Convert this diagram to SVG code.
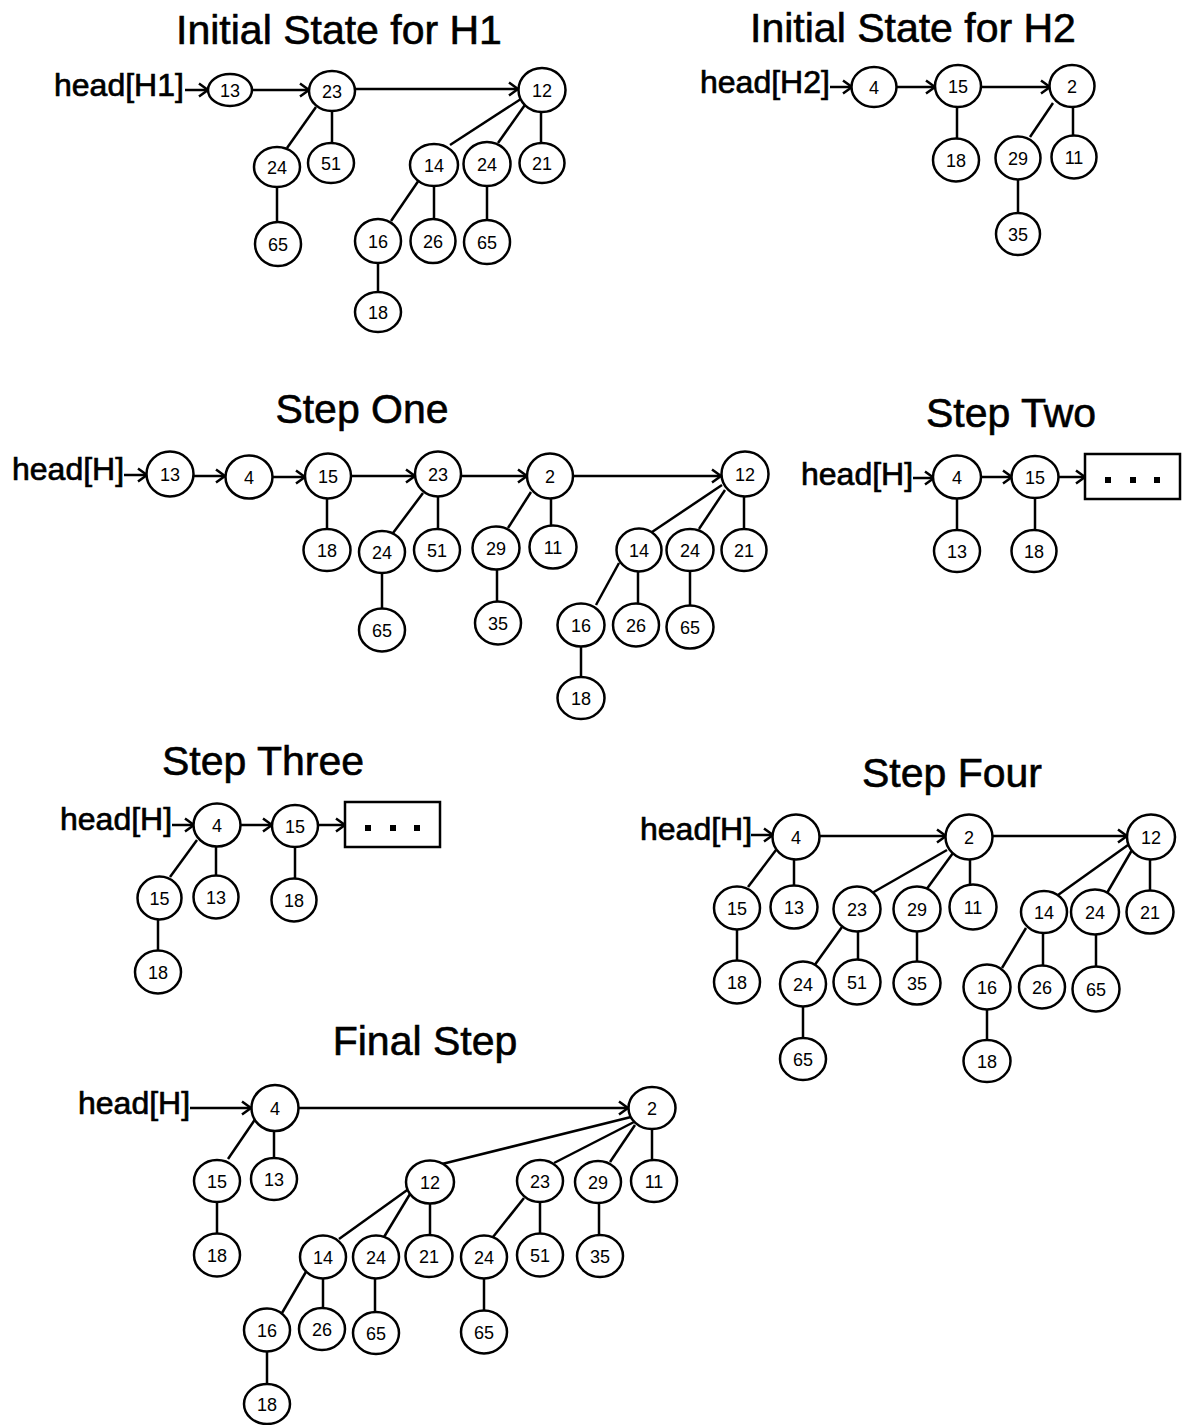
<svg xmlns="http://www.w3.org/2000/svg" width="1187" height="1425" viewBox="0 0 1187 1425">
<style>
  .n ellipse { fill: #fff; stroke: #000; stroke-width: 2.5; }
  .n text { font-family: "Liberation Sans", Arial, sans-serif; font-size: 18px; text-anchor: middle; fill: #000; }
  .title { font-family: "Liberation Sans", Arial, sans-serif; font-size: 41px; text-anchor: middle; fill: #000; stroke: #000; stroke-width: 0.6; }
  .head { font-family: "Liberation Sans", Arial, sans-serif; font-size: 32px; fill: #000; stroke: #000; stroke-width: 0.7; }
  .e line { stroke: #000; stroke-width: 2.5; fill: none; }
  .e line.a { marker-end: url(#arrow); }
  .box rect.frame { fill: #fff; stroke: #000; stroke-width: 2.5; }
  .box rect.dot { fill: #000; }
</style>
<defs>
  <marker id="arrow" markerUnits="userSpaceOnUse" markerWidth="14" markerHeight="16" refX="11" refY="8" orient="auto">
    <path d="M2,1.5 L11,8 L2,14.5" fill="none" stroke="#000" stroke-width="2.5"/>
  </marker>
</defs>
<rect width="1187" height="1425" fill="#fff"/>

<!-- ===== Initial State for H1 ===== -->
<text class="title" x="339" y="44">Initial State for H1</text>
<text class="head" x="54" y="96">head[H1]</text>
<g class="e" id="edges-h1">
  <line class="a" x1="185" y1="90" x2="208" y2="90"/>
  <line class="a" x1="252" y1="90" x2="309" y2="90"/>
  <line class="a" x1="355" y1="89" x2="518" y2="89"/>
  <line x1="316" y1="107" x2="287" y2="148"/>
  <line x1="332" y1="111" x2="332" y2="143"/>
  <line x1="277" y1="187" x2="277" y2="222"/>
  <line x1="524" y1="97" x2="450" y2="145"/>
  <line x1="527" y1="102" x2="498" y2="143"/>
  <line x1="541" y1="112" x2="541" y2="143"/>
  <line x1="419" y1="180" x2="391" y2="221"/>
  <line x1="434" y1="186" x2="434" y2="219"/>
  <line x1="487" y1="186" x2="487" y2="220"/>
  <line x1="378" y1="263" x2="378" y2="292"/>
</g>
<g class="n" id="h1-13"><ellipse cx="230" cy="90" rx="22" ry="16"/><text x="230" y="96.5">13</text></g>
<g class="n" id="h1-23"><ellipse cx="332" cy="91" rx="23" ry="20"/><text x="332" y="97.5">23</text></g>
<g class="n" id="h1-12"><ellipse cx="542" cy="90" rx="23.5" ry="22"/><text x="542" y="96.5">12</text></g>
<g class="n" id="h1-24a"><ellipse cx="277" cy="167" rx="23" ry="20"/><text x="277" y="173.5">24</text></g>
<g class="n" id="h1-51"><ellipse cx="331" cy="163" rx="23" ry="20"/><text x="331" y="169.5">51</text></g>
<g class="n" id="h1-65a"><ellipse cx="278" cy="244" rx="23" ry="22"/><text x="278" y="250.5">65</text></g>
<g class="n" id="h1-14"><ellipse cx="434" cy="165" rx="24" ry="21"/><text x="434" y="171.5">14</text></g>
<g class="n" id="h1-24b"><ellipse cx="487" cy="164" rx="23.5" ry="22"/><text x="487" y="170.5">24</text></g>
<g class="n" id="h1-21"><ellipse cx="542" cy="163" rx="22.5" ry="20"/><text x="542" y="169.5">21</text></g>
<g class="n" id="h1-16"><ellipse cx="378" cy="241" rx="23" ry="22"/><text x="378" y="247.5">16</text></g>
<g class="n" id="h1-26"><ellipse cx="433" cy="241" rx="22.5" ry="22"/><text x="433" y="247.5">26</text></g>
<g class="n" id="h1-65b"><ellipse cx="487" cy="242" rx="23" ry="22"/><text x="487" y="248.5">65</text></g>
<g class="n" id="h1-18"><ellipse cx="378" cy="312" rx="23" ry="20"/><text x="378" y="318.5">18</text></g>

<!-- ===== Initial State for H2 ===== -->
<text class="title" x="913" y="42">Initial State for H2</text>
<text class="head" x="700" y="93">head[H2]</text>
<g class="e" id="edges-h2">
  <line class="a" x1="830" y1="87" x2="852" y2="87"/>
  <line class="a" x1="897" y1="87" x2="935" y2="87"/>
  <line class="a" x1="981" y1="87" x2="1050" y2="87"/>
  <line x1="957" y1="107" x2="957" y2="138"/>
  <line x1="1053" y1="103" x2="1030" y2="137"/>
  <line x1="1073" y1="107" x2="1073" y2="135"/>
  <line x1="1018" y1="180" x2="1018" y2="213"/>
</g>
<g class="n" id="h2-4"><ellipse cx="874" cy="87" rx="22.5" ry="20"/><text x="874" y="93.5">4</text></g>
<g class="n" id="h2-15"><ellipse cx="958" cy="86" rx="23" ry="21"/><text x="958" y="92.5">15</text></g>
<g class="n" id="h2-2"><ellipse cx="1072" cy="86" rx="22.5" ry="21"/><text x="1072" y="92.5">2</text></g>
<g class="n" id="h2-18"><ellipse cx="956" cy="160" rx="23" ry="21.5"/><text x="956" y="166.5">18</text></g>
<g class="n" id="h2-29"><ellipse cx="1018" cy="158" rx="22.5" ry="21.5"/><text x="1018" y="164.5">29</text></g>
<g class="n" id="h2-11"><ellipse cx="1074" cy="157" rx="22.5" ry="21.5"/><text x="1074" y="163.5">11</text></g>
<g class="n" id="h2-35"><ellipse cx="1018" cy="234" rx="22" ry="21"/><text x="1018" y="240.5">35</text></g>

<!-- ===== Step One ===== -->
<text class="title" x="362" y="423">Step One</text>
<text class="head" x="12" y="480">head[H]</text>
<g class="e" id="edges-s1">
  <line class="a" x1="124" y1="475" x2="147" y2="475"/>
  <line class="a" x1="194" y1="476" x2="225" y2="476"/>
  <line class="a" x1="273" y1="477" x2="305" y2="477"/>
  <line class="a" x1="351" y1="476" x2="415" y2="476"/>
  <line class="a" x1="461" y1="476" x2="527" y2="476"/>
  <line class="a" x1="573" y1="476" x2="721" y2="476"/>
  <line x1="327" y1="498" x2="327" y2="529"/>
  <line x1="423" y1="493" x2="393" y2="533"/>
  <line x1="438" y1="497" x2="438" y2="529"/>
  <line x1="531" y1="492" x2="508" y2="528"/>
  <line x1="551" y1="498" x2="551" y2="525"/>
  <line x1="722" y1="485" x2="652" y2="532"/>
  <line x1="725" y1="490" x2="699" y2="529"/>
  <line x1="744" y1="497" x2="744" y2="529"/>
  <line x1="382" y1="573" x2="382" y2="608"/>
  <line x1="497" y1="570" x2="497" y2="602"/>
  <line x1="619" y1="563" x2="596" y2="605"/>
  <line x1="638" y1="572" x2="638" y2="603"/>
  <line x1="690" y1="571" x2="690" y2="605"/>
  <line x1="581" y1="647" x2="581" y2="677"/>
</g>
<g class="n" id="s1-13"><ellipse cx="170" cy="474" rx="23.5" ry="22.5"/><text x="170" y="480.5">13</text></g>
<g class="n" id="s1-4"><ellipse cx="249" cy="477" rx="23.5" ry="21.5"/><text x="249" y="483.5">4</text></g>
<g class="n" id="s1-15"><ellipse cx="328" cy="476" rx="23" ry="22.5"/><text x="328" y="482.5">15</text></g>
<g class="n" id="s1-23"><ellipse cx="438" cy="474" rx="23" ry="22.5"/><text x="438" y="480.5">23</text></g>
<g class="n" id="s1-2"><ellipse cx="550" cy="476" rx="23" ry="22.5"/><text x="550" y="482.5">2</text></g>
<g class="n" id="s1-12"><ellipse cx="745" cy="474" rx="23.5" ry="22.5"/><text x="745" y="480.5">12</text></g>
<g class="n" id="s1-18a"><ellipse cx="327" cy="550" rx="23.5" ry="21"/><text x="327" y="556.5">18</text></g>
<g class="n" id="s1-24a"><ellipse cx="382" cy="552" rx="23" ry="21"/><text x="382" y="558.5">24</text></g>
<g class="n" id="s1-51"><ellipse cx="437" cy="550" rx="23" ry="21"/><text x="437" y="556.5">51</text></g>
<g class="n" id="s1-29"><ellipse cx="496" cy="548" rx="23.5" ry="21.5"/><text x="496" y="554.5">29</text></g>
<g class="n" id="s1-11"><ellipse cx="553" cy="547" rx="23.5" ry="21.5"/><text x="553" y="553.5">11</text></g>
<g class="n" id="s1-14"><ellipse cx="639" cy="550" rx="22.5" ry="21.5"/><text x="639" y="556.5">14</text></g>
<g class="n" id="s1-24b"><ellipse cx="690" cy="550" rx="23.5" ry="21"/><text x="690" y="556.5">24</text></g>
<g class="n" id="s1-21"><ellipse cx="744" cy="550" rx="22.5" ry="21"/><text x="744" y="556.5">21</text></g>
<g class="n" id="s1-65a"><ellipse cx="382" cy="630" rx="23" ry="21.5"/><text x="382" y="636.5">65</text></g>
<g class="n" id="s1-35"><ellipse cx="498" cy="623" rx="23" ry="21.5"/><text x="498" y="629.5">35</text></g>
<g class="n" id="s1-16"><ellipse cx="581" cy="625" rx="23.5" ry="21.5"/><text x="581" y="631.5">16</text></g>
<g class="n" id="s1-26"><ellipse cx="636" cy="625" rx="23" ry="21.5"/><text x="636" y="631.5">26</text></g>
<g class="n" id="s1-65b"><ellipse cx="690" cy="627" rx="23.5" ry="21.5"/><text x="690" y="633.5">65</text></g>
<g class="n" id="s1-18b"><ellipse cx="581" cy="698" rx="23.5" ry="21"/><text x="581" y="704.5">18</text></g>

<!-- ===== Step Two ===== -->
<text class="title" x="1011" y="427">Step Two</text>
<text class="head" x="801" y="485">head[H]</text>
<g class="e" id="edges-s2">
  <line class="a" x1="913" y1="478" x2="934" y2="478"/>
  <line class="a" x1="981" y1="477" x2="1012" y2="477"/>
  <line class="a" x1="1058" y1="477" x2="1085" y2="477"/>
  <line x1="957" y1="498" x2="957" y2="530"/>
  <line x1="1035" y1="498" x2="1035" y2="530"/>
</g>
<g class="n" id="s2-4"><ellipse cx="957" cy="477" rx="24" ry="21.5"/><text x="957" y="483.5">4</text></g>
<g class="n" id="s2-15"><ellipse cx="1035" cy="477" rx="23.5" ry="21"/><text x="1035" y="483.5">15</text></g>
<g class="n" id="s2-13"><ellipse cx="957" cy="551" rx="23" ry="21"/><text x="957" y="557.5">13</text></g>
<g class="n" id="s2-18"><ellipse cx="1034" cy="551" rx="22.5" ry="21"/><text x="1034" y="557.5">18</text></g>
<g class="box" id="s2-rest">
  <rect class="frame" x="1085" y="454" width="95" height="45"/>
  <rect class="dot" x="1105" y="477" width="6" height="6"/>
  <rect class="dot" x="1130" y="477" width="6" height="6"/>
  <rect class="dot" x="1154" y="477" width="6" height="6"/>
</g>

<!-- ===== Step Three ===== -->
<text class="title" x="263" y="775">Step Three</text>
<text class="head" x="60" y="830">head[H]</text>
<g class="e" id="edges-s3">
  <line class="a" x1="172" y1="825" x2="194" y2="825"/>
  <line class="a" x1="240" y1="825" x2="272" y2="825"/>
  <line class="a" x1="318" y1="825" x2="345" y2="825"/>
  <line x1="197" y1="840" x2="170" y2="877"/>
  <line x1="216" y1="847" x2="216" y2="875"/>
  <line x1="295" y1="847" x2="295" y2="878"/>
  <line x1="158" y1="920" x2="158" y2="950"/>
</g>
<g class="n" id="s3-4"><ellipse cx="217" cy="825" rx="23.5" ry="21.5"/><text x="217" y="831.5">4</text></g>
<g class="n" id="s3-15a"><ellipse cx="295" cy="826" rx="23" ry="21"/><text x="295" y="832.5">15</text></g>
<g class="n" id="s3-15b"><ellipse cx="159.5" cy="898" rx="22" ry="21.5"/><text x="159.5" y="904.5">15</text></g>
<g class="n" id="s3-13"><ellipse cx="216" cy="897" rx="22.5" ry="21.5"/><text x="216" y="903.5">13</text></g>
<g class="n" id="s3-18a"><ellipse cx="294" cy="900" rx="22.5" ry="21.5"/><text x="294" y="906.5">18</text></g>
<g class="n" id="s3-18b"><ellipse cx="158" cy="972" rx="23" ry="21.5"/><text x="158" y="978.5">18</text></g>
<g class="box" id="s3-rest">
  <rect class="frame" x="345" y="802" width="95" height="45"/>
  <rect class="dot" x="365" y="825" width="6" height="6"/>
  <rect class="dot" x="390" y="825" width="6" height="6"/>
  <rect class="dot" x="414" y="825" width="6" height="6"/>
</g>

<!-- ===== Step Four ===== -->
<text class="title" x="952" y="787">Step Four</text>
<text class="head" x="640" y="840">head[H]</text>
<g class="e" id="edges-s4">
  <line class="a" x1="751" y1="835" x2="773" y2="835"/>
  <line class="a" x1="819" y1="836" x2="946" y2="836"/>
  <line class="a" x1="993" y1="836" x2="1127" y2="836"/>
  <line x1="776" y1="850" x2="748" y2="887"/>
  <line x1="794" y1="860" x2="794" y2="885"/>
  <line x1="947" y1="850" x2="872" y2="893"/>
  <line x1="953" y1="853" x2="926" y2="890"/>
  <line x1="970" y1="860" x2="970" y2="885"/>
  <line x1="1128" y1="845" x2="1058" y2="895"/>
  <line x1="1132" y1="850" x2="1107" y2="893"/>
  <line x1="1150" y1="860" x2="1150" y2="890"/>
  <line x1="737" y1="930" x2="737" y2="960"/>
  <line x1="842" y1="927" x2="814" y2="966"/>
  <line x1="858" y1="932" x2="858" y2="960"/>
  <line x1="917" y1="932" x2="917" y2="962"/>
  <line x1="1026" y1="928" x2="1002" y2="968"/>
  <line x1="1043" y1="933" x2="1043" y2="965"/>
  <line x1="1096" y1="935" x2="1096" y2="967"/>
  <line x1="803" y1="1007" x2="803" y2="1038"/>
  <line x1="987" y1="1010" x2="987" y2="1040"/>
</g>
<g class="n" id="s4-4"><ellipse cx="796" cy="837" rx="23.5" ry="22.5"/><text x="796" y="843.5">4</text></g>
<g class="n" id="s4-2"><ellipse cx="969" cy="837" rx="23.5" ry="22.5"/><text x="969" y="843.5">2</text></g>
<g class="n" id="s4-12"><ellipse cx="1151" cy="837" rx="24" ry="22.5"/><text x="1151" y="843.5">12</text></g>
<g class="n" id="s4-15"><ellipse cx="737" cy="908" rx="23" ry="21.5"/><text x="737" y="914.5">15</text></g>
<g class="n" id="s4-13"><ellipse cx="794" cy="907" rx="23.5" ry="21.5"/><text x="794" y="913.5">13</text></g>
<g class="n" id="s4-23"><ellipse cx="857" cy="909" rx="23.5" ry="22.5"/><text x="857" y="915.5">23</text></g>
<g class="n" id="s4-29"><ellipse cx="917" cy="909" rx="23.5" ry="22.5"/><text x="917" y="915.5">29</text></g>
<g class="n" id="s4-11"><ellipse cx="973" cy="907" rx="23.5" ry="22.5"/><text x="973" y="913.5">11</text></g>
<g class="n" id="s4-14"><ellipse cx="1044" cy="912" rx="23" ry="21"/><text x="1044" y="918.5">14</text></g>
<g class="n" id="s4-24a"><ellipse cx="1095" cy="912" rx="24" ry="22.5"/><text x="1095" y="918.5">24</text></g>
<g class="n" id="s4-21"><ellipse cx="1150" cy="912" rx="23.5" ry="21.5"/><text x="1150" y="918.5">21</text></g>
<g class="n" id="s4-18a"><ellipse cx="737" cy="982" rx="23" ry="21.5"/><text x="737" y="988.5">18</text></g>
<g class="n" id="s4-24b"><ellipse cx="803" cy="984" rx="23" ry="22.5"/><text x="803" y="990.5">24</text></g>
<g class="n" id="s4-51"><ellipse cx="857" cy="982" rx="23.5" ry="22.5"/><text x="857" y="988.5">51</text></g>
<g class="n" id="s4-35"><ellipse cx="917" cy="983" rx="23.5" ry="21.5"/><text x="917" y="989.5">35</text></g>
<g class="n" id="s4-16"><ellipse cx="987" cy="987" rx="23.5" ry="22.5"/><text x="987" y="993.5">16</text></g>
<g class="n" id="s4-26"><ellipse cx="1042" cy="987" rx="23" ry="21.5"/><text x="1042" y="993.5">26</text></g>
<g class="n" id="s4-65a"><ellipse cx="1096" cy="989" rx="23.5" ry="22.5"/><text x="1096" y="995.5">65</text></g>
<g class="n" id="s4-65b"><ellipse cx="803" cy="1059" rx="23" ry="21"/><text x="803" y="1065.5">65</text></g>
<g class="n" id="s4-18b"><ellipse cx="987" cy="1061" rx="23.5" ry="21"/><text x="987" y="1067.5">18</text></g>

<!-- ===== Final Step ===== -->
<text class="title" x="425" y="1055">Final Step</text>
<text class="head" x="78" y="1114">head[H]</text>
<g class="e" id="edges-final">
  <line class="a" x1="190" y1="1108" x2="251" y2="1108"/>
  <line class="a" x1="299" y1="1108" x2="628" y2="1108"/>
  <line x1="256" y1="1118" x2="228" y2="1159"/>
  <line x1="274" y1="1131" x2="274" y2="1158"/>
  <line x1="631" y1="1117" x2="442" y2="1164"/>
  <line x1="634" y1="1122" x2="554" y2="1163"/>
  <line x1="635" y1="1125" x2="610" y2="1162"/>
  <line x1="652" y1="1129" x2="652" y2="1160"/>
  <line x1="217" y1="1202" x2="217" y2="1234"/>
  <line x1="410" y1="1188" x2="339" y2="1239"/>
  <line x1="410" y1="1194" x2="384" y2="1237"/>
  <line x1="430" y1="1203" x2="430" y2="1235"/>
  <line x1="524" y1="1198" x2="493" y2="1237"/>
  <line x1="540" y1="1202" x2="540" y2="1234"/>
  <line x1="599" y1="1203" x2="599" y2="1235"/>
  <line x1="307" y1="1270" x2="282" y2="1313"/>
  <line x1="323" y1="1278" x2="323" y2="1308"/>
  <line x1="375" y1="1278" x2="375" y2="1312"/>
  <line x1="484" y1="1278" x2="484" y2="1310"/>
  <line x1="267" y1="1352" x2="267" y2="1384"/>
</g>
<g class="n" id="f-4"><ellipse cx="275" cy="1108" rx="23.5" ry="23"/><text x="275" y="1114.5">4</text></g>
<g class="n" id="f-2"><ellipse cx="652" cy="1108" rx="23.5" ry="21"/><text x="652" y="1114.5">2</text></g>
<g class="n" id="f-15"><ellipse cx="217" cy="1181" rx="23" ry="21"/><text x="217" y="1187.5">15</text></g>
<g class="n" id="f-13"><ellipse cx="274" cy="1179" rx="23" ry="21"/><text x="274" y="1185.5">13</text></g>
<g class="n" id="f-12"><ellipse cx="430" cy="1182" rx="24" ry="21.5"/><text x="430" y="1188.5">12</text></g>
<g class="n" id="f-23"><ellipse cx="540" cy="1181" rx="23" ry="21"/><text x="540" y="1187.5">23</text></g>
<g class="n" id="f-29"><ellipse cx="598" cy="1182" rx="23" ry="21"/><text x="598" y="1188.5">29</text></g>
<g class="n" id="f-11"><ellipse cx="654" cy="1181" rx="23" ry="21"/><text x="654" y="1187.5">11</text></g>
<g class="n" id="f-18a"><ellipse cx="217" cy="1255" rx="23" ry="21.5"/><text x="217" y="1261.5">18</text></g>
<g class="n" id="f-14"><ellipse cx="323" cy="1257" rx="23" ry="21.5"/><text x="323" y="1263.5">14</text></g>
<g class="n" id="f-24a"><ellipse cx="376" cy="1257" rx="23" ry="21.5"/><text x="376" y="1263.5">24</text></g>
<g class="n" id="f-21"><ellipse cx="429" cy="1256" rx="23.5" ry="21"/><text x="429" y="1262.5">21</text></g>
<g class="n" id="f-24b"><ellipse cx="484" cy="1257" rx="23" ry="21.5"/><text x="484" y="1263.5">24</text></g>
<g class="n" id="f-51"><ellipse cx="540" cy="1255" rx="23" ry="21.5"/><text x="540" y="1261.5">51</text></g>
<g class="n" id="f-35"><ellipse cx="600" cy="1256" rx="23" ry="21"/><text x="600" y="1262.5">35</text></g>
<g class="n" id="f-16"><ellipse cx="267" cy="1330" rx="23" ry="21.5"/><text x="267" y="1336.5">16</text></g>
<g class="n" id="f-26"><ellipse cx="322" cy="1329" rx="23" ry="21"/><text x="322" y="1335.5">26</text></g>
<g class="n" id="f-65a"><ellipse cx="376" cy="1333" rx="23" ry="21"/><text x="376" y="1339.5">65</text></g>
<g class="n" id="f-65b"><ellipse cx="484" cy="1332" rx="23" ry="21.5"/><text x="484" y="1338.5">65</text></g>
<g class="n" id="f-18b"><ellipse cx="267" cy="1404" rx="23" ry="20"/><text x="267" y="1410.5">18</text></g>
</svg>
